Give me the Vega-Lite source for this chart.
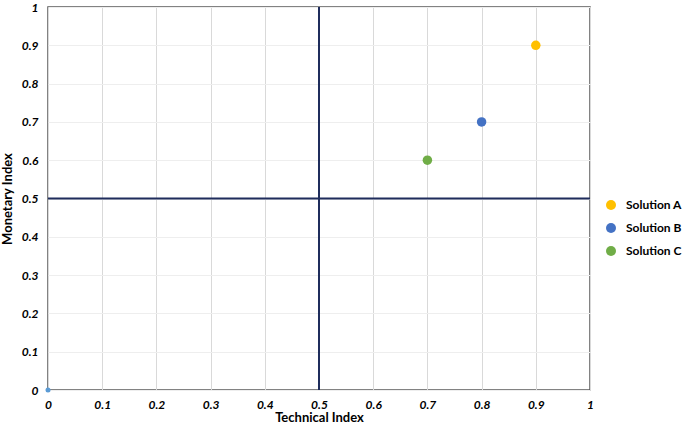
{
  "$schema": "https://vega.github.io/schema/vega-lite/v6.json",
  "autosize": {"type": "none"},
  "padding": {"left": 48, "top": 7, "right": 95, "bottom": 34},
  "width": 542,
  "height": 383,
  "background": "white",
  "config": {
    "view": {"stroke": "#595959", "strokeWidth": 1.5},
    "font": "Lato",
    "axis": {"domain": false, "ticks": false, "labelOverlap": false, "labelFlush": false,
      "labelFont": "Lato", "labelFontSize": 12, "labelFontWeight": "bold", "labelFontStyle": "italic", "labelColor": "#000",
      "titleFont": "Lato", "titleFontSize": 13, "titleFontWeight": "bold", "titleColor": "#000"},
    "axisX": {"gridColor": "#d9d9d9", "labelPadding": 9, "titlePadding": 1},
    "axisY": {"gridColor": "#eeeeee", "labelPadding": 10, "titlePadding": 7}
  },
  "datasets": {
    "pts": [
      {"tech": 0.9, "mon": 0.9, "solution": "Solution A"},
      {"tech": 0.8, "mon": 0.7, "solution": "Solution B"},
      {"tech": 0.7, "mon": 0.6, "solution": "Solution C"}
    ],
    "origin": [{"tech": 0, "mon": 0}],
    "vline": [{"v": 0.5}]
  },
  "layer": [
    {
      "data": {"name": "vline"},
      "mark": {"type": "rule", "color": "#1F2D5C", "strokeWidth": 2},
      "encoding": {"x": {"field": "v", "type": "quantitative", "scale": {"domain": [0, 1]},
        "axis": {"values": [0,0.1,0.2,0.3,0.4,0.5,0.6,0.7,0.8,0.9,1], "format": "~g", "title": "Technical Index"}}}
    },
    {
      "data": {"name": "vline"},
      "mark": {"type": "rule", "color": "#1F2D5C", "strokeWidth": 2},
      "encoding": {"y": {"field": "v", "type": "quantitative", "scale": {"domain": [0, 1]},
        "axis": {"values": [0,0.1,0.2,0.3,0.4,0.5,0.6,0.7,0.8,0.9,1], "format": "~g", "title": "Monetary Index"}}}
    },
    {
      "data": {"name": "origin"},
      "mark": {"type": "point", "filled": true, "color": "#5B9BD5", "size": 25, "opacity": 1},
      "encoding": {
        "x": {"field": "tech", "type": "quantitative", "axis": {"values": [0,0.1,0.2,0.3,0.4,0.5,0.6,0.7,0.8,0.9,1], "format": "~g", "title": "Technical Index"}},
        "y": {"field": "mon", "type": "quantitative", "axis": {"values": [0,0.1,0.2,0.3,0.4,0.5,0.6,0.7,0.8,0.9,1], "format": "~g", "title": "Monetary Index"}}
      }
    },
    {
      "data": {"name": "pts"},
      "mark": {"type": "point", "filled": true, "size": 90, "opacity": 1},
      "encoding": {
        "x": {"field": "tech", "type": "quantitative", "axis": {"values": [0,0.1,0.2,0.3,0.4,0.5,0.6,0.7,0.8,0.9,1], "format": "~g", "title": "Technical Index"}},
        "y": {"field": "mon", "type": "quantitative", "axis": {"values": [0,0.1,0.2,0.3,0.4,0.5,0.6,0.7,0.8,0.9,1], "format": "~g", "title": "Monetary Index"}},
        "color": {"field": "solution", "type": "nominal",
          "scale": {"domain": ["Solution A", "Solution B", "Solution C"], "range": ["#FFC000", "#4472C4", "#70AD47"]},
          "legend": {"title": null, "orient": "none", "legendX": 557, "legendY": 192, "symbolType": "circle", "symbolSize": 100,
            "labelFont": "Lato", "labelFontSize": 12, "labelFontWeight": "bold", "labelColor": "#000", "rowPadding": 11, "labelOffset": 9}}
      }
    }
  ]
}
